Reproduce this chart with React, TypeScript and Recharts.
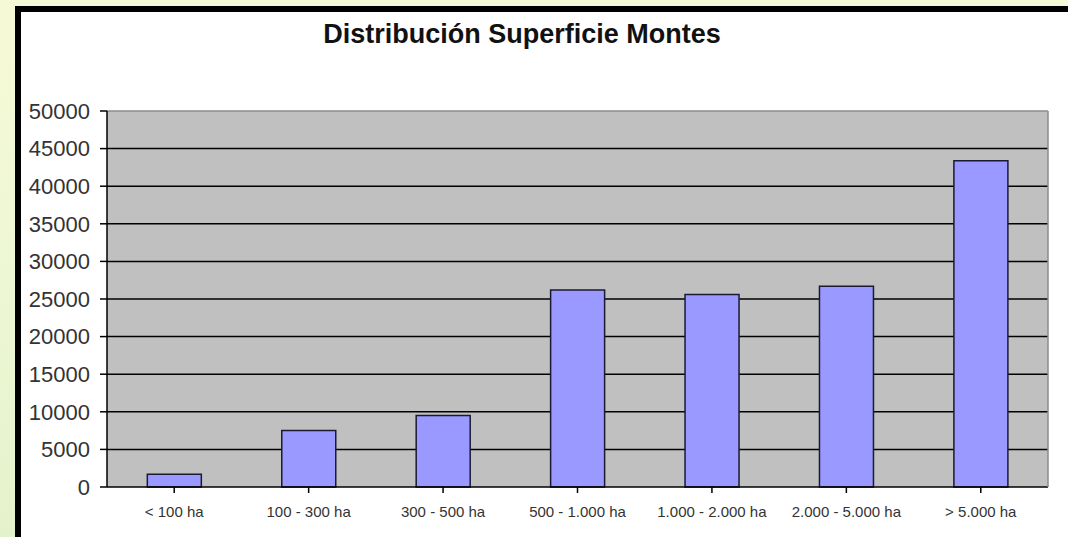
import React from "react";
import { BarChart, Bar, XAxis, YAxis, CartesianGrid, ReferenceLine } from "recharts";

const categories = [
  "< 100 ha",
  "100 - 300 ha",
  "300 - 500 ha",
  "500 - 1.000 ha",
  "1.000 - 2.000 ha",
  "2.000 - 5.000 ha",
  "> 5.000 ha",
];
const superficie = [1700, 7500, 9500, 26200, 25600, 26700, 43400];
const yTicks = [0, 5000, 10000, 15000, 20000, 25000, 30000, 35000, 40000, 45000, 50000];
const gridValues = [5000, 10000, 15000, 20000, 25000, 30000, 35000, 40000, 45000];

const data = categories.map((name, i) => ({ name, superficie: superficie[i] }));

const font = "'Liberation Sans', Arial, sans-serif";

const App = () => {
  return (
    <div
      style={{
        position: "fixed",
        left: 0,
        top: 0,
        width: 1068,
        height: 537,
        overflow: "hidden",
        background: "linear-gradient(180deg, #f6f9d6 0%, #eef7d4 50%, #e4f2cc 100%)",
        fontFamily: font,
      }}
    >
      <div
        style={{
          position: "absolute",
          left: 15,
          top: 6,
          width: 1068,
          height: 537,
          background: "#fff",
          borderLeft: "6px solid #000",
          borderTop: "6px solid #000",
        }}
      />
      <div
        style={{
          position: "absolute",
          left: 222,
          width: 600,
          top: 19,
          textAlign: "center",
          fontSize: 27,
          fontWeight: "bold",
          color: "#111",
          fontFamily: font,
        }}
      >
        Distribución Superficie Montes
      </div>
      <div style={{ position: "absolute", left: 0, top: 0 }}>
        <BarChart
          width={1068}
          height={537}
          data={data}
          margin={{ top: 111, right: 0, bottom: 20, left: 0 }}
          barCategoryGap="30%"
        >
          <CartesianGrid
            vertical={false}
            horizontalValues={gridValues}
            stroke="#000"
            strokeWidth={1.5}
            fill="#c0c0c0"
            fillOpacity={1}
            yAxisId="left"
          />
          <XAxis
            dataKey="name"
            height={30}
            axisLine={{ stroke: "#000", strokeWidth: 1.5 }}
            tickLine={{ stroke: "#000", strokeWidth: 1.5 }}
            tickSize={6}
            tickMargin={13}
            tick={{ fontSize: 15, fill: "#333", fontFamily: font }}
            interval={0}
          />
          <YAxis
            yAxisId="left"
            width={107}
            domain={[0, 50000]}
            ticks={yTicks}
            interval={0}
            axisLine={{ stroke: "#000", strokeWidth: 1.5 }}
            tickLine={{ stroke: "#000", strokeWidth: 1.5 }}
            tickSize={7}
            tickMargin={10}
            tick={{ fontSize: 22, fill: "#333", fontFamily: font }}
          />
          <YAxis
            yAxisId="right"
            orientation="right"
            width={20}
            domain={[0, 50000]}
            tick={false}
            tickLine={false}
            axisLine={{ stroke: "#8c8c8c", strokeWidth: 1.5 }}
          />
          <ReferenceLine yAxisId="left" y={50000} stroke="#8c8c8c" strokeWidth={1.5} />
          <Bar
            yAxisId="left"
            dataKey="superficie"
            fill="#9999ff"
            stroke="#1a1a33"
            strokeWidth={1.5}
            isAnimationActive={false}
          />
        </BarChart>
      </div>
    </div>
  );
};

export default App;
